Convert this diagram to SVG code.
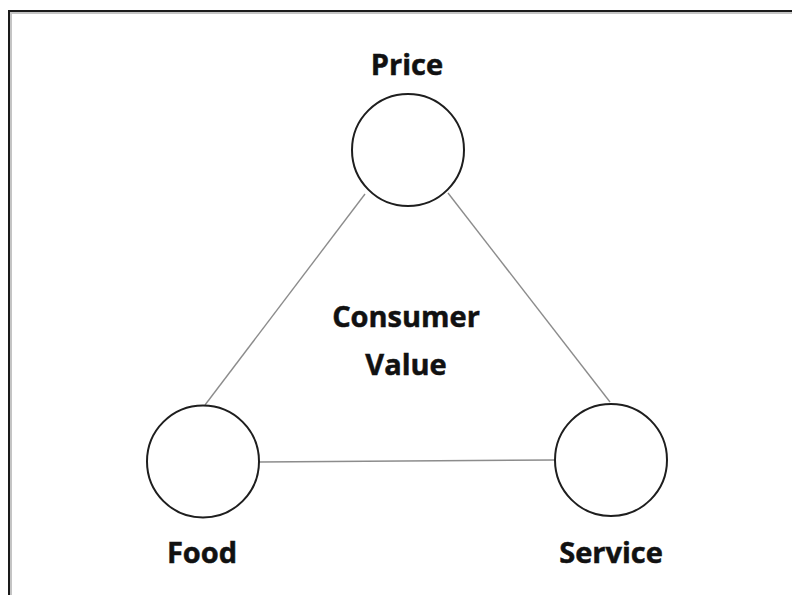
<svg xmlns="http://www.w3.org/2000/svg" width="792" height="595" viewBox="0 0 792 595">
  <style>
    .node circle { fill: #ffffff; stroke: #1e1e1e; stroke-width: 2; }
    .label { font-family: "Open Sans", "Liberation Sans", sans-serif; font-weight: bold; font-size: 29px; fill: #111111; stroke: #111111; stroke-width: 0.5; text-anchor: middle; }
    .link { stroke: #8c8c8c; stroke-width: 1.4; fill: none; }
  </style>
  <rect x="0" y="0" width="792" height="595" fill="#ffffff"/>
  <!-- page frame: dark edge with a soft inner shadow -->
  <path d="M11,595 V13 H792" fill="none" stroke="#c4c4c4" stroke-width="2"/>
  <path d="M9,595 V11 H792" fill="none" stroke="#1a1a1a" stroke-width="2"/>

  <g id="connectors">
    <line class="link" x1="365" y1="194" x2="205" y2="405"/>
    <line class="link" x1="448" y1="193" x2="610" y2="402"/>
    <line class="link" x1="259" y1="462" x2="555" y2="460"/>
  </g>

  <g id="price" class="node">
    <circle cx="408" cy="150" r="56"/>
    <text class="label" x="407" y="75">Price</text>
  </g>
  <g id="food" class="node">
    <circle cx="203" cy="461.5" r="56"/>
    <text class="label" x="202" y="563">Food</text>
  </g>
  <g id="service" class="node">
    <circle cx="611" cy="460" r="56"/>
    <text class="label" x="611" y="563">Service</text>
  </g>
  <g id="consumer-value">
    <text class="label" x="406" y="327">Consumer</text>
    <text class="label" x="406" y="375">Value</text>
  </g>
</svg>
